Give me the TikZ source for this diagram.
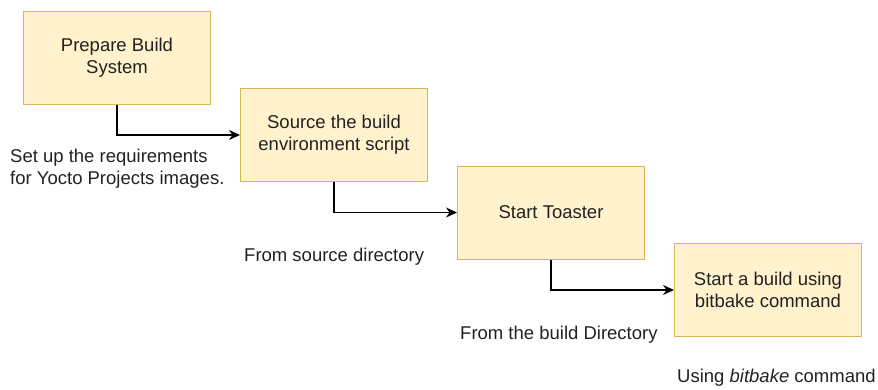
\documentclass[tikz,border=0pt]{standalone}
\usepackage{fontspec}
\setmainfont{Liberation Sans}
\usetikzlibrary{arrows.meta,positioning}

\definecolor{boxfill}{HTML}{FFF2CC}
\definecolor{boxline}{HTML}{D6B656}
\definecolor{txt}{HTML}{222222}

\begin{document}
\begin{tikzpicture}[x=1pt, y=-1pt,
    every node/.style={font=\fontsize{18.5}{22}\selectfont, text=txt},
    stepbox/.style={draw=boxline, fill=boxfill, line width=1pt,
                    minimum width=187pt, minimum height=93pt, align=center},
    flow/.style={line width=1.2pt, -{Stealth[length=11pt,width=10pt]}},
    note/.style={align=left, inner sep=0pt}]
  % Define dimensions
  \def\dx{217}
  \def\dy{77.5}
  \useasboundingbox (0,0) rectangle (878,389);

  % Steps
  \node[stepbox] (prep)  at (117,57.5)                 {Prepare Build\\System};
  \node[stepbox] (env)   at (117+\dx,57.5+\dy)         {Source the build\\environment script};
  \node[stepbox] (toast) at (117+2*\dx,57.5+2*\dy)     {Start Toaster};
  \node[stepbox] (bake)  at (117+3*\dx,57.5+3*\dy)     {Start a build using\\bitbake command};

  % Connectors
  \draw[flow] (prep.south) |- (env.west);
  \draw[flow] (env.south) |- (toast.west);
  \draw[flow] (toast.south) |- (bake.west);

  % Notes
  \node[note, anchor=west] (reqs) at (10,169) {Set up the requirements\\for Yocto Projects images.};
  \node[note, anchor=west] (srcdir) at (244,257) {From source directory};
  \node[note, anchor=west] (blddir) at (460,335) {From the build Directory};
  \node[note, anchor=west] (usebb) at (677,378) {Using \textit{bitbake} command};
\end{tikzpicture}
\end{document}
